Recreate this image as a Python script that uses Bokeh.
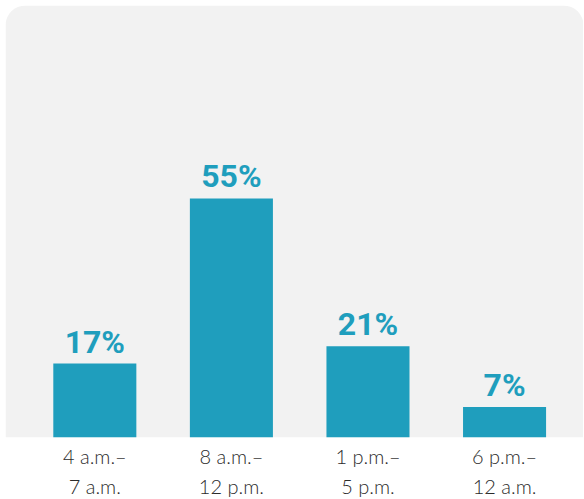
from bokeh.plotting import figure
from bokeh.models import ColumnDataSource, Range1d, FixedTicker, BoxAnnotation
from bokeh.core.properties import value
from bokeh.embed import file_html
from bokeh.resources import INLINE

categories = ["4 a.m.–\n7 a.m.", "8 a.m.–\n12 p.m.", "1 p.m.–\n5 p.m.", "6 p.m.–\n12 a.m."]
shares = [17, 55, 21, 7]
share_labels = ["17%", "55%", "21%", "7%"]

xs = list(range(len(categories)))
src = ColumnDataSource(dict(x=xs, top=shares, label=share_labels))

BAR = "#1f9ebd"
p = figure(frame_width=578, frame_height=432, output_backend="svg", toolbar_location=None,
           x_range=Range1d(-0.654, 3.578), y_range=Range1d(0, 99.4),
           min_border_left=0, min_border_right=0, min_border_top=0, min_border_bottom=0)
p.margin = (5, 0, 0, 5)
p.background_fill_color = "white"
p.border_fill_color = "white"
p.outline_line_color = None

p.add_layout(BoxAnnotation(fill_color="#f2f2f2", fill_alpha=1, line_color=None,
                           border_radius=(20, 20, 0, 0), level="underlay"))

p.vbar(x="x", top="top", bottom=0, width=0.608, source=src, fill_color=BAR, line_color=None)
p.text(x="x", y="top", text="label", source=src, text_align="center",
       text_baseline="bottom", y_offset=-3, text_color=BAR,
       text_font=value("Roboto"), text_font_style="bold", text_font_size="32px")

p.xgrid.visible = False
p.ygrid.visible = False
p.yaxis.visible = False
ax = p.xaxis[0]
ax.ticker = FixedTicker(ticks=xs)
ax.major_label_overrides = {i: c for i, c in zip(xs, categories)}
ax.axis_line_color = None
ax.major_tick_line_color = None
ax.minor_tick_line_color = None
ax.major_tick_out = 0
ax.major_tick_in = 0
ax.major_label_standoff = 6
ax.major_label_text_font = "Lato Light, Lato"
ax.major_label_text_font_size = "20px"
ax.major_label_text_color = "#2b2b2b"
ax.major_label_text_line_height = 1.25

open("out.html", "w").write(file_html(p, INLINE))
